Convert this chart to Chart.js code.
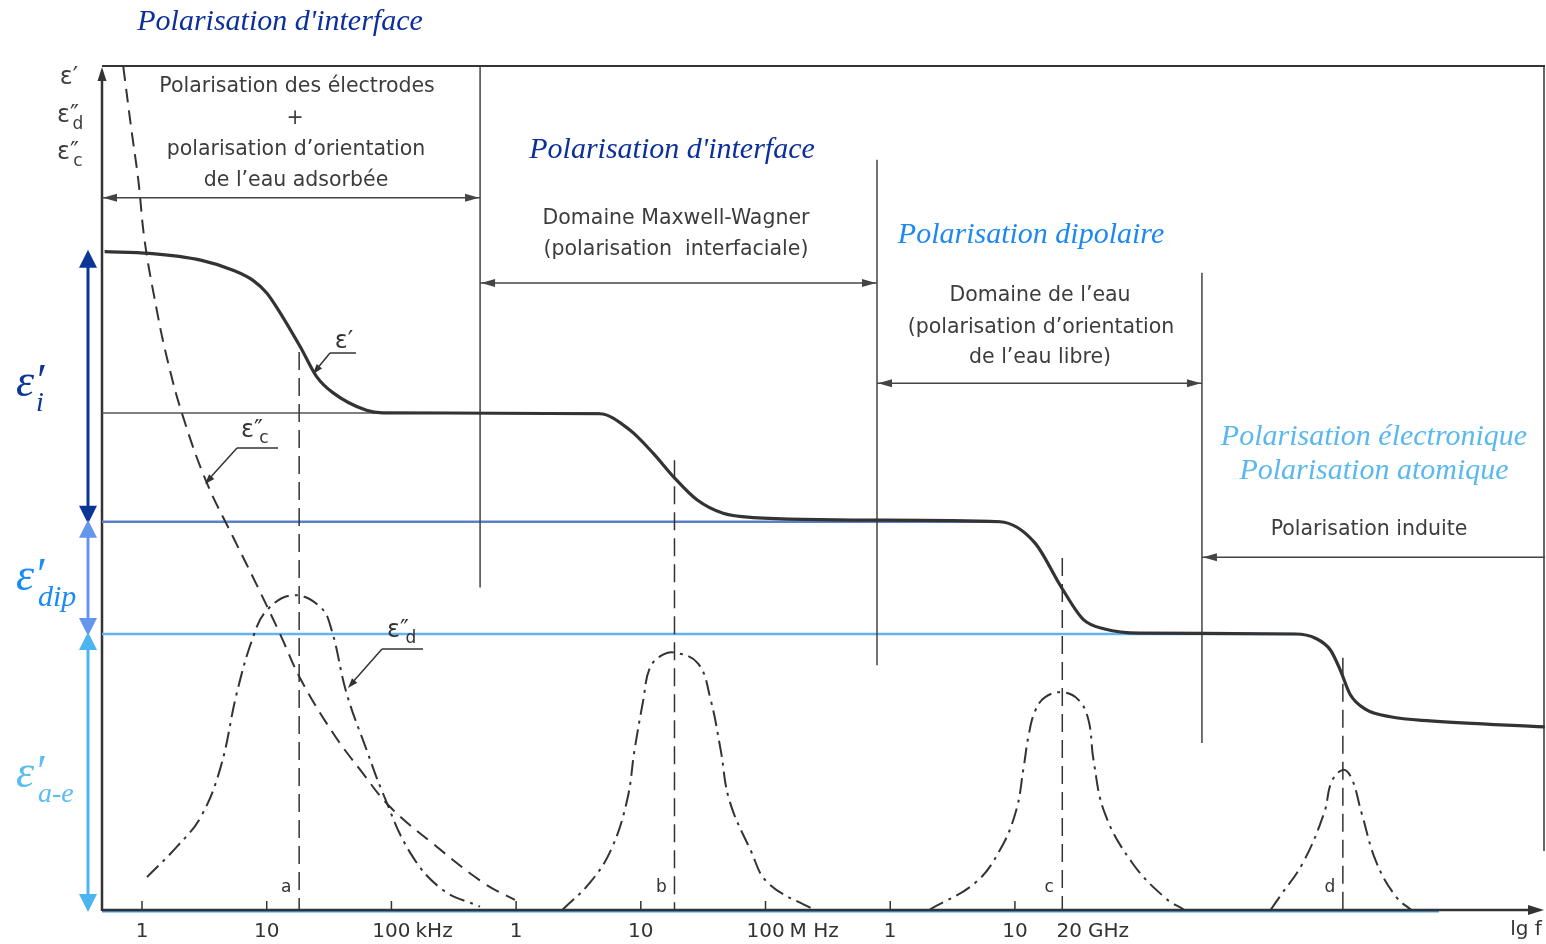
<!DOCTYPE html>
<html>
<head>
<meta charset="utf-8">
<script src="https://cdn.jsdelivr.net/npm/chart.js@4.4.0/dist/chart.umd.min.js"></script>
<style>
  html, body { margin: 0; padding: 0; background: #fff; }
  #wrap { width: 1546px; height: 944px; }
</style>
</head>
<body>
<div id="wrap"><canvas id="dielChart" width="1546" height="944"></canvas></div>
<script>
// x = lg f (f in Hz), y = permittivity in arbitrary units (0..100)
var epsPrimeX = [2.70, 3.06, 3.47, 3.73, 3.89, 4.00, 4.08, 4.27, 4.40, 4.53, 4.80, 4.93, 6.67, 6.91, 7.10, 7.27, 7.45, 7.66, 7.90, 8.89, 9.88, 10.16, 10.37, 10.55, 10.72, 11.00, 12.25, 12.41, 12.53, 12.61, 12.69, 12.81, 13.01, 13.33, 14.25];
var epsPrimeY = [78.0, 77.8, 77.0, 75.8, 74.6, 73.1, 71.4, 66.7, 63.2, 61.3, 59.2, 58.9, 58.8, 56.9, 54.1, 51.2, 48.6, 47.0, 46.5, 46.2, 46.0, 43.5, 38.3, 34.4, 33.3, 32.8, 32.7, 32.2, 30.8, 28.4, 25.5, 23.8, 22.9, 22.4, 21.7];

var epsCondX = [2.85, 2.91, 2.97, 3.02, 3.10, 3.20, 3.33, 3.52, 3.73, 3.95, 4.11, 4.27, 4.53, 4.75, 4.99, 5.33, 5.74, 5.99];
var epsCondY = [99.9, 93.0, 86.5, 79.4, 72.5, 65.4, 58.4, 50.6, 44.2, 37.6, 32.6, 27.4, 21.0, 16.6, 12.2, 7.9, 3.2, 1.2];

// dielectric loss peaks a, b, c, d
var lossAX = [3.04, 3.28, 3.47, 3.63, 3.76, 3.89, 4.00, 4.21, 4.43, 4.52, 4.64, 4.80, 4.93, 5.15, 5.41, 5.71];
var lossAY = [3.9, 7.5, 11.0, 16.9, 25.7, 32.3, 35.5, 37.3, 35.9, 33.2, 25.7, 19.0, 13.9, 6.8, 2.4, 0.4];
var lossBX = [6.37, 6.59, 6.76, 6.89, 6.95, 7.02, 7.07, 7.16, 7.27, 7.46, 7.56, 7.64, 7.71, 7.88, 8.02, 8.39];
var lossBY = [0, 3.2, 7.1, 13.0, 19.0, 24.9, 28.6, 30.1, 30.5, 29.2, 24.9, 19.0, 13.0, 7.1, 3.2, 0];
var lossCX = [9.31, 9.68, 9.88, 10.01, 10.07, 10.11, 10.16, 10.24, 10.38, 10.51, 10.59, 10.63, 10.72, 10.94, 11.20, 11.36];
var lossCY = [0, 3.2, 7.1, 11.8, 16.9, 20.7, 23.5, 25.2, 25.8, 24.9, 22.5, 17.8, 11.5, 5.6, 1.5, 0];
var lossDX = [12.05, 12.12, 12.31, 12.48, 12.54, 12.63, 12.70, 12.78, 12.90, 13.06, 13.18];
var lossDY = [0, 1.5, 5.6, 11.5, 15.2, 16.6, 15.6, 11.5, 5.6, 1.5, 0];

// relaxation frequencies a..d and top of their dashed markers
var relaxLg = [4.26, 7.27, 10.38, 12.63];
var relaxTop = [66.1, 53.3, 41.7, 29.9];
var relaxNames = ["a", "b", "c", "d"];

// plateau levels: eps'_i, eps'_dip, eps'_a-e
var levelY = [58.9, 46.0, 32.7];
var levelEnd = [6.67, 9.88, 12.25];

// domain boundaries
var boundLg = [5.711, 8.894, 11.50];
var boundTop = [100, 88.9, 75.5];
var boundBottom = [38.2, 29.0, 19.8];
var domainArrowY = [84.4, 74.3, 62.4, 41.8];

// axis ticks
var tickLg = [3, 4, 5, 6, 7, 8, 9, 10];
var tickNum = ["1", "10", "100", "1", "10", "100", "1", "10"];
var tickUnit = ["", "", "kHz", "", "", "M Hz", "", ""];

function pts(xs, ys) { return xs.map(function (x, i) { return { x: x, y: ys[i] }; }); }
function joinPts(list) {
  var out = [];
  list.forEach(function (p, i) { if (i > 0) out.push({ x: p[0].x, y: null }); out = out.concat(p); });
  return out;
}

var INK = "#333333";
var GRAY_TXT = "#3c3c3c";

var levelColors = ["#555555", "#5b80c8", "#63b2f2"];
var levelSets = levelY.map(function (y, i) {
  return {
    label: "level" + i, data: [{ x: 2.679, y: y }, { x: levelEnd[i], y: y }],
    borderColor: levelColors[i], borderWidth: i === 0 ? 1.5 : 2.5, pointRadius: 0, order: 5
  };
});

var boundData = joinPts(boundLg.map(function (x, i) { return [{ x: x, y: boundTop[i] }, { x: x, y: boundBottom[i] }]; }));
var relaxData = joinPts(relaxLg.map(function (x, i) { return [{ x: x, y: relaxTop[i] }, { x: x, y: 0 }]; }));
var lossData = joinPts([pts(lossAX, lossAY), pts(lossBX, lossBY), pts(lossCX, lossCY), pts(lossDX, lossDY)]);

function arrowHead(ctx, x, y, dx, dy, len, half) {
  var n = Math.sqrt(dx * dx + dy * dy); dx /= n; dy /= n;
  ctx.beginPath();
  ctx.moveTo(x, y);
  ctx.lineTo(x - dx * len - dy * half, y - dy * len + dx * half);
  ctx.lineTo(x - dx * len + dy * half, y - dy * len - dx * half);
  ctx.closePath();
  ctx.fill();
}
function line(ctx, x1, y1, x2, y2) {
  ctx.beginPath(); ctx.moveTo(x1, y1); ctx.lineTo(x2, y2); ctx.stroke();
}
function txt(ctx, s, x, y, font, color, align) {
  ctx.font = font; ctx.fillStyle = color; ctx.textAlign = align || "center"; ctx.textBaseline = "middle";
  ctx.fillText(s, x, y);
}

var framePlugin = {
  id: "frame",
  beforeDatasetsDraw: function (chart) {
    var ctx = chart.ctx, a = chart.chartArea, xs = chart.scales.x, ys = chart.scales.y;
    ctx.save();
    ctx.strokeStyle = INK; ctx.fillStyle = INK; ctx.lineCap = "butt";
    // top frame + right frame
    ctx.lineWidth = 2;
    line(ctx, a.left, a.top, a.right, a.top);
    ctx.lineWidth = 1.5;
    line(ctx, a.right - 1, a.top, a.right - 1, ys.getPixelForValue(7));
    // bottom axis, blue overlay then dark line
    ctx.strokeStyle = "#4a9ae0"; ctx.lineWidth = 2;
    line(ctx, a.left, a.bottom + 1.5, xs.getPixelForValue(13.4), a.bottom + 1.5);
    ctx.strokeStyle = INK; ctx.lineWidth = 2.5;
    line(ctx, a.left, a.bottom, a.right - 12, a.bottom);
    arrowHead(ctx, a.right - 1, a.bottom, 1, 0, 16, 5);
    // left axis
    line(ctx, a.left, a.bottom + 1, a.left, a.top + 14);
    arrowHead(ctx, a.left, a.top + 1, 0, -1, 14, 4.5);
    // ticks
    ctx.lineWidth = 1.5;
    tickLg.forEach(function (v) {
      var x = xs.getPixelForValue(v);
      line(ctx, x, a.bottom, x, a.bottom - 9);
    });
    ctx.restore();
  },
  afterDatasetsDraw: function (chart) {
    var ctx = chart.ctx, a = chart.chartArea, xs = chart.scales.x, ys = chart.scales.y;
    var X = function (v) { return xs.getPixelForValue(v); };
    var Y = function (v) { return ys.getPixelForValue(v); };
    ctx.save();
    var sans = "DejaVu Sans, sans-serif";
    var serifI = "italic 30px 'Liberation Serif', serif";

    // tick labels
    var tf = "20px " + sans;
    tickLg.forEach(function (v, i) {
      var x = X(v);
      ctx.font = tf;
      var w = ctx.measureText(tickNum[i]).width;
      txt(ctx, tickNum[i], x, 932, tf, INK, "center");
      if (tickUnit[i]) txt(ctx, tickUnit[i], x + w / 2 + 5, 932, tf, INK, "left");
    });
    var xc = X(relaxLg[2]) + 7;
    ctx.font = tf;
    var w20 = ctx.measureText("20").width;
    txt(ctx, "20", xc, 932, tf, INK, "center");
    txt(ctx, "GHz", xc + w20 / 2 + 6, 932, tf, INK, "left");
    txt(ctx, "lg f", 1526, 930, tf, INK, "center");

    // relaxation letters
    relaxNames.forEach(function (n, i) {
      txt(ctx, n, X(relaxLg[i]) - 13, 888, "17px " + sans, INK, "center");
    });

    // domain double arrows
    ctx.strokeStyle = "#444"; ctx.fillStyle = "#444"; ctx.lineWidth = 1.5;
    var edges = [2.679].concat(boundLg).concat([14.251]);
    domainArrowY.forEach(function (yv, i) {
      var y = Y(yv), x1 = X(edges[i]), x2 = X(edges[i + 1]);
      line(ctx, x1, y, x2, y);
      arrowHead(ctx, x1 + 1, y, -1, 0, 14, 4);
      if (i < 3) arrowHead(ctx, x2 - 1, y, 1, 0, 14, 4);
    });

    // y-axis symbols
    txt(ctx, "\u03b5\u2032", 69, 78, "24px " + sans, GRAY_TXT, "center");
    txt(ctx, "\u03b5\u2033", 68, 116, "24px " + sans, GRAY_TXT, "center");
    txt(ctx, "d", 78, 125, "17px " + sans, GRAY_TXT, "center");
    txt(ctx, "\u03b5\u2033", 68, 153, "24px " + sans, GRAY_TXT, "center");
    txt(ctx, "c", 78, 162, "17px " + sans, GRAY_TXT, "center");

    // domain texts
    var f = "20.5px " + sans;
    txt(ctx, "Polarisation des \u00e9lectrodes", 297, 87, f, GRAY_TXT);
    txt(ctx, "+", 295, 119, f, GRAY_TXT);
    txt(ctx, "polarisation d\u2019orientation", 296, 150, f, GRAY_TXT);
    txt(ctx, "de l\u2019eau adsorb\u00e9e", 296, 181, f, GRAY_TXT);
    txt(ctx, "Domaine Maxwell-Wagner", 676, 219, f, GRAY_TXT);
    txt(ctx, "(polarisation  interfaciale)", 676, 250, f, GRAY_TXT);
    txt(ctx, "Domaine de l\u2019eau", 1040, 296, f, GRAY_TXT);
    txt(ctx, "(polarisation d\u2019orientation", 1041, 328, f, GRAY_TXT);
    txt(ctx, "de l\u2019eau libre)", 1040, 358, f, GRAY_TXT);
    txt(ctx, "Polarisation induite", 1369, 530, f, GRAY_TXT);

    // coloured italic headings
    txt(ctx, "Polarisation d'interface", 280, 22, serifI, "#0d2f9c");
    txt(ctx, "Polarisation d'interface", 672, 150, serifI, "#0d2f9c");
    txt(ctx, "Polarisation dipolaire", 1031, 235, serifI, "#1e88f0");
    txt(ctx, "Polarisation \u00e9lectronique", 1374, 437, serifI, "#5ab8ee");
    txt(ctx, "Polarisation atomique", 1374, 471, serifI, "#5ab8ee");

    // curve leaders
    ctx.strokeStyle = INK; ctx.fillStyle = INK; ctx.lineWidth = 1.5;
    txt(ctx, "\u03b5\u2032", 344, 342, "24px " + sans, INK);
    line(ctx, 330, 353, 356, 353); line(ctx, 330, 353, 316, 370);
    arrowHead(ctx, 313, 374, -14, 17, 10, 3.5);
    txt(ctx, "\u03b5\u2033", 252, 431, "24px " + sans, INK);
    txt(ctx, "c", 264, 439, "17px " + sans, INK);
    line(ctx, 237, 448, 278, 448); line(ctx, 237, 448, 209, 479);
    arrowHead(ctx, 205, 484, -28, 31, 10, 3.5);
    txt(ctx, "\u03b5\u2033", 398, 631, "24px " + sans, INK);
    txt(ctx, "d", 411, 639, "17px " + sans, INK);
    line(ctx, 382, 649, 423, 649); line(ctx, 382, 649, 352, 683);
    arrowHead(ctx, 348, 688, -30, 34, 10, 3.5);

    // left coloured double arrows
    var ax = 88;
    var spans = [[78.0, levelY[1]], [levelY[1], levelY[2]], [levelY[2], 0]];
    var cols = ["#0c3597", "#6496ee", "#4cb4ee"];
    spans.forEach(function (s, i) {
      var yt = Y(s[0]) - 2, yb = Y(s[1]) + 2;
      ctx.strokeStyle = cols[i]; ctx.fillStyle = cols[i]; ctx.lineWidth = 3;
      line(ctx, ax, yt + 12, ax, yb - 12);
      arrowHead(ctx, ax, yt, 0, -1, 18, 9);
      arrowHead(ctx, ax, yb, 0, 1, 18, 9);
    });

    // left eps labels
    var big = "italic 46px 'Liberation Serif', serif";
    txt(ctx, "\u03b5\u2032", 16, 384, big, "#0c3597", "left");
    txt(ctx, "i", 36, 404, "italic 28px 'Liberation Serif', serif", "#0c3597", "left");
    txt(ctx, "\u03b5\u2032", 16, 578, big, "#1a8cf5", "left");
    txt(ctx, "dip", 38, 598, "italic 30px 'Liberation Serif', serif", "#1a8cf5", "left");
    txt(ctx, "\u03b5\u2032", 16, 775, big, "#5bbcf0", "left");
    txt(ctx, "a-e", 38, 795, "italic 28px 'Liberation Serif', serif", "#5bbcf0", "left");
    ctx.restore();
  }
};

new Chart(document.getElementById("dielChart"), {
  type: "line",
  data: {
    datasets: levelSets.concat([
      { label: "domain bounds", data: boundData, borderColor: "#444", borderWidth: 1.5, pointRadius: 0, spanGaps: false, order: 4 },
      { label: "relaxation", data: relaxData, borderColor: INK, borderWidth: 1.5, borderDash: [18, 8], pointRadius: 0, spanGaps: false, order: 3 },
      { label: "\u03b5\u2033c", data: pts(epsCondX, epsCondY), borderColor: INK, borderWidth: 2, borderDash: [14, 8], pointRadius: 0, tension: 0.4, order: 2 },
      { label: "\u03b5\u2033d", data: lossData, borderColor: INK, borderWidth: 2, borderDash: [16, 6, 3, 6], pointRadius: 0, spanGaps: false, tension: 0.4, order: 2 },
      { label: "\u03b5\u2032", data: pts(epsPrimeX, epsPrimeY), borderColor: INK, borderWidth: 3.2, pointRadius: 0, cubicInterpolationMode: "monotone", order: 1 }
    ])
  },
  options: {
    responsive: false,
    animation: false,
    devicePixelRatio: 1,
    events: [],
    layout: { padding: { left: 102, top: 66, right: 1, bottom: 34 } },
    plugins: { legend: { display: false }, tooltip: { enabled: false } },
    scales: {
      x: { type: "linear", min: 2.679, max: 14.251, display: false },
      y: { type: "linear", min: 0, max: 100, display: false }
    }
  },
  plugins: [framePlugin]
});
</script>
</body>
</html>
